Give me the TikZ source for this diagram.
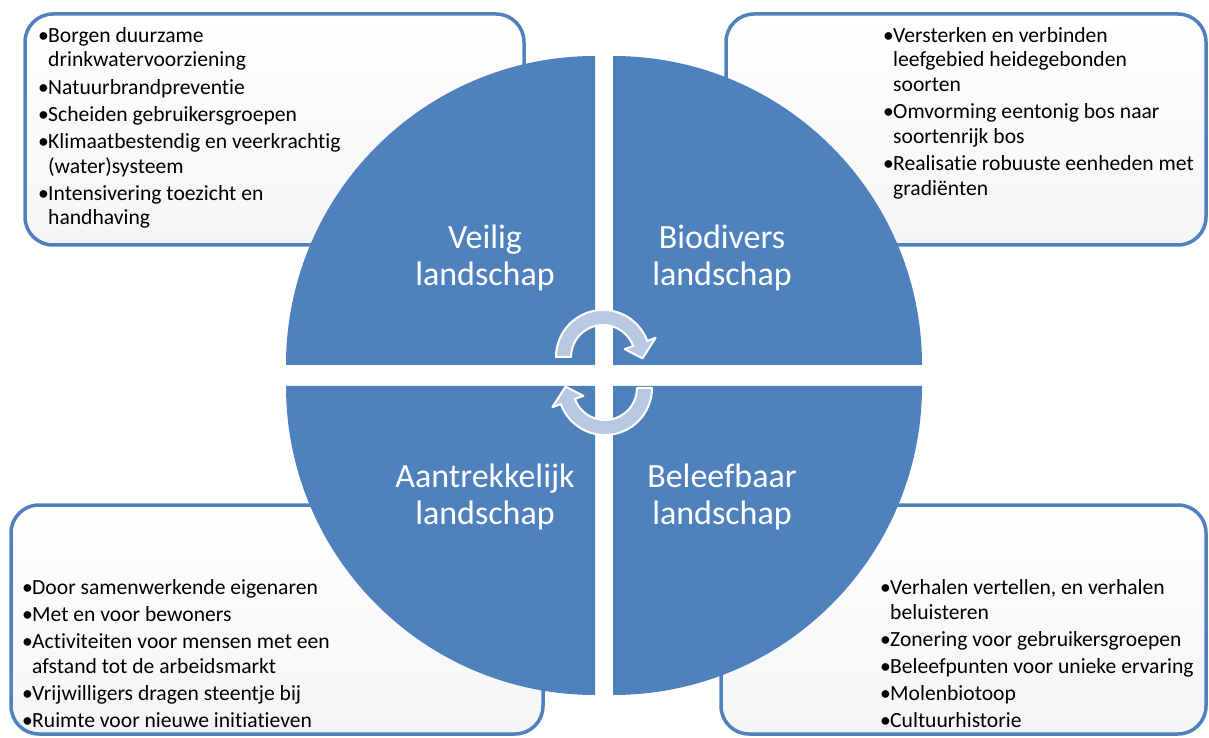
\documentclass[tikz,border=0pt]{standalone}
\usepackage{fontspec}
\setmainfont{Carlito}[Ligatures={NoCommon}]
\definecolor{qblue}{RGB}{79,129,189}
\definecolor{arrowfill}{RGB}{184,199,226}
\tikzset{
  quad/.style={fill=qblue},
  infobox/.style={draw=qblue, line width=3.5pt, rounded corners=28pt, top color=white, bottom color=black!4},
  qlabel/.style={text=white, font=\fontsize{34}{37}\selectfont, align=center, inner sep=0pt},
  bullets/.style={font=\fontsize{21.6}{24.8}\selectfont, align=left, inner sep=0pt, anchor=north west, text=black},
  cyc/.style={fill=arrowfill, draw=white, line width=2pt, line join=round}
}
\newcommand{\bl}{\makebox[10pt][l]{\textbullet}}
\newcommand{\ind}{\hspace*{10pt}}
\begin{document}
\begin{tikzpicture}[x=1pt,y=1pt]
\useasboundingbox (0,0) rectangle (1209,737);
% boxes
\path[infobox] (25,723) rectangle (524,492);
\path[infobox] (726,723) rectangle (1206,492);
\path[infobox] (11,232) rectangle (543,3);
\path[infobox] (721,232) rectangle (1206,3);
% quadrants
\fill[quad] (595,372) -- ++(-309,0) arc[start angle=180, end angle=90, radius=309] -- cycle;
\fill[quad] (613,372) -- ++(0,309) arc[start angle=90, end angle=0, radius=309] -- cycle;
\fill[quad] (595,351) -- ++(0,-309) arc[start angle=270, end angle=180, radius=309] -- cycle;
\fill[quad] (613,351) -- ++(309,0) arc[start angle=0, end angle=-90, radius=309] -- cycle;
% labels
\node[qlabel] (veilig) at (485,479) {Veilig\\landschap};
\node[qlabel] (biodivers) at (722,479) {Biodivers\\landschap};
\node[qlabel] (aantrek) at (485,240) {Aantrekkelijk\\landschap};
\node[qlabel] (beleef) at (722,240) {Beleefbaar\\landschap};
% circular arrows
\begin{scope}[shift={(603,380)}]
\path[cyc] (180:47) arc[start angle=180, end angle=20, radius=47] -- (20:56) -- (-2:39.5) -- (20:23) -- (20:32) arc[start angle=20, end angle=180, radius=32] -- cycle;
\end{scope}
\begin{scope}[shift={(605,349)}]
\path[cyc] (0:47) arc[start angle=0, end angle=-160, radius=47] -- (-160:56) -- (-182:39.5) -- (-160:23) -- (-160:32) arc[start angle=-160, end angle=0, radius=32] -- cycle;
\end{scope}
% texts
\node[bullets] (tltext) at (38,710) {\bl Borgen duurzame\\ \ind drinkwatervoorziening\\[2.3pt]
\bl Natuurbrandpreventie\\[2.3pt]
\bl Scheiden gebruikersgroepen\\[2.3pt]
\bl Klimaatbestendig en veerkrachtig\\ \ind (water)systeem\\[2.3pt]
\bl Intensivering toezicht en\\ \ind handhaving};
\node[bullets] (trtext) at (883,710) {\bl Versterken en verbinden\\ \ind leefgebied heidegebonden\\ \ind soorten\\[2.3pt]
\bl Omvorming eentonig bos naar\\ \ind soortenrijk bos\\[2.3pt]
\bl Realisatie robuuste eenheden met\\ \ind gradiënten};
\node[bullets] (bltext) at (22,158) {\bl Door samenwerkende eigenaren\\[2.3pt]
\bl Met en voor bewoners\\[2.3pt]
\bl Activiteiten voor mensen met een\\ \ind afstand tot de arbeidsmarkt\\[2.3pt]
\bl Vrijwilligers dragen steentje bij\\[2.3pt]
\bl Ruimte voor nieuwe initiatieven};
\node[bullets] (brtext) at (880,158) {\bl Verhalen vertellen, en verhalen\\ \ind beluisteren\\[2.3pt]
\bl Zonering voor gebruikersgroepen\\[2.3pt]
\bl Beleefpunten voor unieke ervaring\\[2.3pt]
\bl Molenbiotoop\\[2.3pt]
\bl Cultuurhistorie};
\end{tikzpicture}
\end{document}
